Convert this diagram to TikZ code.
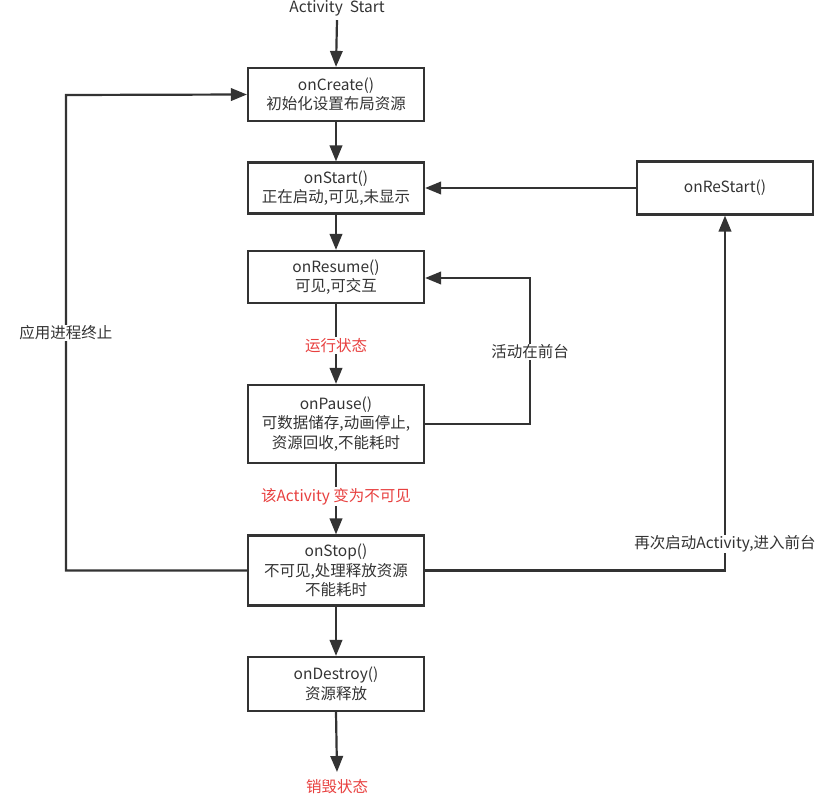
\documentclass[tikz,border=0pt]{standalone}
\usepackage{fontspec}
\setmainfont{Noto Sans CJK SC}
\usetikzlibrary{arrows.meta}
\definecolor{ink}{HTML}{333333}
\definecolor{redtxt}{HTML}{E8403F}
\tikzset{
  lcbox/.style={draw=ink, line width=2.2pt, minimum width=176pt, align=center, text=ink,
    font=\fontsize{15.5}{19.5}\selectfont, inner sep=0pt},
  conn/.style={draw=ink, line width=2.2pt, -{Triangle[length=16pt,width=12.5pt]}},
  lbl/.style={fill=white, text=ink, font=\fontsize{15.5}{19}\selectfont, inner sep=1pt},
  redlbl/.style={fill=white, text=redtxt, font=\fontsize{15.5}{19}\selectfont, inner sep=1pt}
}
\begin{document}
\begin{tikzpicture}[x=1pt,y=-1pt]
\useasboundingbox (0,0) rectangle (836,800);
\node[text=ink, font=\fontsize{15.5}{17}\selectfont, inner sep=0pt] (act) at (337,8) {Activity\ \ Start};
\node[lcbox, minimum height=53pt] (create) at (336,94.5) {onCreate()\\初始化设置布局资源};
\node[lcbox, minimum height=51pt] (start) at (336,188) {onStart()\\正在启动,可见,未显示};
\node[lcbox, minimum height=52pt] (resume) at (336,277) {onResume()\\可见,可交互};
\node[lcbox, minimum height=78pt] (pause) at (336,424) {onPause()\\可数据储存,动画停止,\\资源回收,不能耗时};
\node[lcbox, minimum height=70pt] (stop) at (336,570.5) {onStop()\\不可见,处理释放资源\\不能耗时};
\node[lcbox, minimum height=54pt] (destroy) at (336,684) {onDestroy()\\资源释放};
\node[lcbox, minimum height=53pt] (restart) at (725,188) {onReStart()};
\node[text=redtxt, font=\fontsize{15.5}{17}\selectfont, inner sep=0pt] (dead) at (337,787) {销毁状态};
\coordinate (deadarr) at (337,772);

\draw[conn] (act.south) ++(0,4) -- (create.north);
\draw[conn] (create) -- (start);
\draw[conn] (start) -- (resume);
\draw[conn] (resume) -- (pause) node[redlbl, pos=0.52] {运行状态};
\draw[conn] (pause) -- (stop) node[redlbl, pos=0.46] {该Activity 变为不可见};
\draw[conn] (stop) -- (destroy);
\draw[conn] (destroy.south) -- (deadarr);
\draw[conn] (restart.west) -- (start.east);

\coordinate (pr) at (530,278);
\draw[conn] (pause.east) -| (pr) -- (resume.east |- pr);
\node[lbl] at (530,352) {活动在前台};

\coordinate (ll) at (66,95);
\draw[conn] (stop.west) -| (ll) -- (create.west);
\node[lbl] at (66,333) {应用进程终止};

\draw[conn] (stop.east) -| (restart.south);
\node[lbl] at (725,544) {再次启动Activity,进入前台};
\end{tikzpicture}
\end{document}
